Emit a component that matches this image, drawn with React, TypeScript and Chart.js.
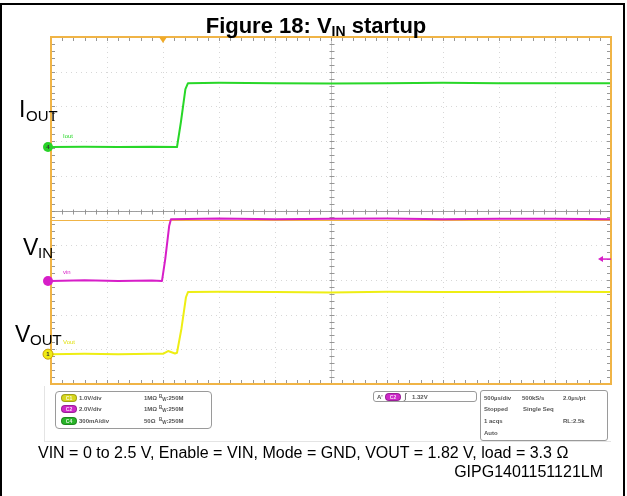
import React, { useEffect, useRef } from "react";
import { Chart, registerables } from "chart.js";

Chart.register(...registerables);

// ---- Data (time in µs relative to trigger, amplitude in screen divisions) ----
const timeDivUs = 500;
const xMinUs = -1000;
const xMaxUs = 4000;
const yMinDiv = -5;
const yMaxDiv = 5;

const ioutTimeUs = [-1000, -700, -400, -100, 125, 160, 200, 223, 500, 1000, 1500, 2000, 2500, 3000, 3500, 4000];
const ioutDiv = [1.83, 1.84, 1.83, 1.84, 1.83, 2.55, 3.5, 3.67, 3.68, 3.67, 3.66, 3.67, 3.68, 3.67, 3.67, 3.67];

const vinTimeUs = [-1000, -700, -400, -100, -9, 20, 55, 71, 500, 1000, 1500, 2000, 2500, 3000, 3500, 4000];
const vinDiv = [-2.03, -2.01, -2.03, -2.02, -2.03, -1.4, -0.45, -0.25, -0.23, -0.25, -0.24, -0.23, -0.25, -0.24, -0.24, -0.25];

const voutTimeUs = [-1000, -700, -400, -100, 0, 45, 107, 125, 165, 205, 223, 500, 1000, 1500, 2000, 2500, 3000, 3500, 4000];
const voutDiv = [-4.14, -4.13, -4.14, -4.13, -4.13, -4.05, -4.12, -4.1, -3.4, -2.5, -2.35, -2.34, -2.35, -2.36, -2.34, -2.35, -2.35, -2.34, -2.35];

const channelRefs = [
  { label: "4", level: 1.83, color: "rgb(40,210,40)" },
  { label: "", level: -2.03, color: "rgb(215,30,200)" },
  { label: "1", level: -4.14, color: "rgb(240,235,20)" },
];
const triggerTimeUs = 0;
const triggerLevelDiv = -1.4;
const auxLineDiv = -0.27;

const GREEN = "rgb(40,215,40)";
const MAGENTA = "rgb(215,30,200)";
const YELLOW = "rgb(238,238,20)";
const ORANGE = "rgb(240,180,70)";

const scopePlugin = {
  id: "scope",
  beforeDatasetsDraw(chart: any) {
    const { ctx, chartArea: a, scales } = chart;
    const x = scales.x;
    const y = scales.y;
    ctx.save();
    // dotted grid
    ctx.strokeStyle = "rgba(175,175,175,0.5)";
    ctx.lineWidth = 1;
    ctx.setLineDash([1, 4]);
    for (let d = 1; d < 10; d++) {
      const px = Math.round(x.getPixelForValue(xMinUs + d * timeDivUs)) + 0.5;
      ctx.beginPath();
      ctx.moveTo(px, a.top);
      ctx.lineTo(px, a.bottom);
      ctx.stroke();
    }
    for (let d = yMinDiv + 1; d < yMaxDiv; d++) {
      const py = Math.round(y.getPixelForValue(d)) + 0.5;
      ctx.beginPath();
      ctx.moveTo(a.left, py);
      ctx.lineTo(a.right, py);
      ctx.stroke();
    }
    ctx.setLineDash([]);
    // center lines
    const cy = Math.round(y.getPixelForValue(0)) + 0.5;
    const cx = Math.round(x.getPixelForValue(xMinUs + 5 * timeDivUs)) + 0.5;
    ctx.strokeStyle = "rgba(150,150,150,0.9)";
    ctx.beginPath();
    ctx.moveTo(a.left, cy);
    ctx.lineTo(a.right, cy);
    ctx.stroke();
    ctx.strokeStyle = "rgba(190,190,190,0.8)";
    ctx.beginPath();
    ctx.moveTo(cx, a.top);
    ctx.lineTo(cx, a.bottom);
    ctx.stroke();
    // minor ticks
    ctx.strokeStyle = "rgba(140,140,140,0.9)";
    for (let i = 1; i < 50; i++) {
      const px = Math.round(x.getPixelForValue(xMinUs + (i * timeDivUs) / 5)) + 0.5;
      ctx.beginPath();
      ctx.moveTo(px, a.top);
      ctx.lineTo(px, a.top + 4);
      ctx.moveTo(px, a.bottom);
      ctx.lineTo(px, a.bottom - 4);
      ctx.moveTo(px, cy - 2);
      ctx.lineTo(px, cy + 3);
      ctx.stroke();
    }
    for (let i = 1; i < 50; i++) {
      const py = Math.round(y.getPixelForValue(yMinDiv + i / 5)) + 0.5;
      ctx.beginPath();
      ctx.moveTo(a.left, py);
      ctx.lineTo(a.left + 4, py);
      ctx.moveTo(a.right, py);
      ctx.lineTo(a.right - 4, py);
      ctx.moveTo(cx - 2, py);
      ctx.lineTo(cx + 3, py);
      ctx.stroke();
    }
    // auxiliary orange level line
    const oy = Math.round(y.getPixelForValue(auxLineDiv)) + 0.5;
    ctx.strokeStyle = ORANGE;
    ctx.beginPath();
    ctx.moveTo(a.left, oy);
    ctx.lineTo(a.right, oy);
    ctx.stroke();
    ctx.restore();
  },
  afterDatasetsDraw(chart: any) {
    const { ctx, chartArea: a, scales } = chart;
    const x = scales.x;
    const y = scales.y;
    ctx.save();
    // orange frame
    ctx.strokeStyle = ORANGE;
    ctx.lineWidth = 2;
    ctx.strokeRect(a.left, a.top, a.right - a.left, a.bottom - a.top);
    // trigger position marker
    const tx = x.getPixelForValue(triggerTimeUs);
    ctx.fillStyle = "rgb(240,170,40)";
    ctx.beginPath();
    ctx.moveTo(tx - 4, a.top);
    ctx.lineTo(tx + 4, a.top);
    ctx.lineTo(tx, a.top + 6);
    ctx.closePath();
    ctx.fill();
    // trigger level arrow at right
    const ty = y.getPixelForValue(triggerLevelDiv);
    ctx.strokeStyle = MAGENTA;
    ctx.fillStyle = MAGENTA;
    ctx.lineWidth = 1.5;
    ctx.beginPath();
    ctx.moveTo(a.right - 10, ty);
    ctx.lineTo(a.right, ty);
    ctx.stroke();
    ctx.beginPath();
    ctx.moveTo(a.right - 13, ty);
    ctx.lineTo(a.right - 8, ty - 3);
    ctx.lineTo(a.right - 8, ty + 3);
    ctx.closePath();
    ctx.fill();
    // channel reference markers
    for (const c of channelRefs) {
      const py = y.getPixelForValue(c.level);
      const px = a.left - 3;
      ctx.beginPath();
      ctx.arc(px, py, 5, 0, Math.PI * 2);
      ctx.fillStyle = c.color;
      ctx.fill();
      if (c.label === "1") {
        ctx.strokeStyle = "rgb(200,160,0)";
        ctx.lineWidth = 1;
        ctx.stroke();
      }
      if (c.label) {
        ctx.fillStyle = "#333";
        ctx.font = "bold 6px 'Liberation Sans', Arial";
        ctx.textAlign = "center";
        ctx.textBaseline = "middle";
        ctx.fillText(c.label, px, py + 0.5);
      }
    }
    ctx.restore();
  },
};

function pts(xs: number[], ys: number[]) {
  return xs.map((t, i) => ({ x: t, y: ys[i] }));
}

const baseFont = '"Liberation Sans", Arial, Helvetica, sans-serif';

function Txt(props: {
  x: number;
  base: number;
  size: number;
  bold?: boolean;
  color?: string;
  right?: boolean;
  children: React.ReactNode;
}) {
  const { x, base, size, bold, color, right, children } = props;
  const style: React.CSSProperties = {
    position: "absolute",
    top: base - size * 0.8465,
    fontSize: size,
    lineHeight: `${size}px`,
    fontWeight: bold ? "bold" : "normal",
    color: color || "#000",
    whiteSpace: "nowrap",
    fontFamily: baseFont,
  };
  if (right) style.right = 627 - x;
  else style.left = x;
  return <div style={style}>{children}</div>;
}

function Pill({ x, y, color, text }: { x: number; y: number; color: string; text: string }) {
  return (
    <div
      style={{
        position: "absolute",
        left: x,
        top: y - 4,
        width: 16,
        height: 8,
        borderRadius: 4,
        background: color,
        border: "1px solid rgba(0,0,0,0.25)",
        boxSizing: "border-box",
        fontSize: 5,
        lineHeight: "6px",
        color: "rgba(255,255,255,0.85)",
        textAlign: "center",
        fontFamily: baseFont,
        fontWeight: "bold",
      }}
    >
      {text}
    </div>
  );
}

const infoColor = "#555";
const infoSize = 6;

export default function App() {
  const ref = useRef<HTMLCanvasElement | null>(null);
  useEffect(() => {
    if (!ref.current) return;
    const chart = new Chart(ref.current, {
      type: "line",
      data: {
        datasets: [
          { label: "VIN", data: pts(vinTimeUs, vinDiv), borderColor: MAGENTA, borderWidth: 2, pointRadius: 0, tension: 0 },
          { label: "VOUT", data: pts(voutTimeUs, voutDiv), borderColor: YELLOW, borderWidth: 2, pointRadius: 0, tension: 0 },
          { label: "IOUT", data: pts(ioutTimeUs, ioutDiv), borderColor: GREEN, borderWidth: 2, pointRadius: 0, tension: 0 },
        ],
      },
      options: {
        responsive: false,
        maintainAspectRatio: false,
        animation: false,
        devicePixelRatio: 1,
        layout: { padding: { left: 51, top: 37, right: 16, bottom: 112 } },
        scales: {
          x: { type: "linear", min: xMinUs, max: xMaxUs, display: false },
          y: { type: "linear", min: yMinDiv, max: yMaxDiv, display: false },
        },
        plugins: { legend: { display: false }, tooltip: { enabled: false }, title: { display: false } },
        elements: { line: { borderJoinStyle: "round" } },
      },
      plugins: [scopePlugin],
    } as any);
    return () => chart.destroy();
  }, []);

  return (
    <div
      style={{
        position: "fixed",
        left: 0,
        top: 0,
        width: 627,
        height: 496,
        background: "#fff",
        overflow: "hidden",
        fontFamily: baseFont,
      }}
    >
      <div style={{ position: "absolute", left: 0, top: 3, width: 621, height: 600, border: "2px solid #000" }} />
      <div
        style={{
          position: "absolute",
          left: 44,
          top: 386,
          width: 566,
          height: 55,
          borderLeft: "1px solid #e4e4e4",
          borderBottom: "1px solid #e4e4e4",
        }}
      />
      <canvas ref={ref} width={627} height={496} style={{ position: "absolute", left: 0, top: 0, width: 627, height: 496 }} />

      {/* Title */}
      <div
        style={{
          position: "absolute",
          left: 0,
          width: 632,
          top: 34 - 22 * 0.8465,
          textAlign: "center",
          fontSize: 22,
          lineHeight: "22px",
          fontWeight: "bold",
          whiteSpace: "nowrap",
        }}
      >
        Figure 18: V<span style={{ fontSize: 14, position: "relative", top: 3 }}>IN</span> startup
      </div>

      {/* Channel labels */}
      <Txt x={19} base={117} size={23}>I</Txt>
      <Txt x={26} base={121} size={15}>OUT</Txt>
      <Txt x={23} base={255} size={23}>V</Txt>
      <Txt x={38} base={258} size={15}>IN</Txt>
      <Txt x={15} base={342} size={23}>V</Txt>
      <Txt x={30} base={345} size={15}>OUT</Txt>

      <Txt x={63} base={138} size={6} color={GREEN}>Iout</Txt>
      <Txt x={63} base={274} size={6} color={MAGENTA}>vin</Txt>
      <Txt x={63} base={344} size={6} color="rgb(225,225,20)">Vout</Txt>

      {/* Left info box */}
      <div
        style={{
          position: "absolute",
          left: 55,
          top: 391,
          width: 157,
          height: 38,
          border: "1px solid #9a9a9a",
          borderRadius: 4,
          boxSizing: "border-box",
        }}
      />
      <Pill x={61} y={398} color="rgb(215,215,30)" text="C1" />
      <Pill x={61} y={409} color="rgb(205,40,200)" text="C2" />
      <Pill x={61} y={421} color="rgb(40,180,40)" text="C4" />
      <Txt x={79} base={400} size={infoSize} bold color={infoColor}>1.0V/div</Txt>
      <Txt x={79} base={411} size={infoSize} bold color={infoColor}>2.0V/div</Txt>
      <Txt x={79} base={423} size={infoSize} bold color={infoColor}>300mA/div</Txt>
      {[400, 411, 423].map((b, i) => (
        <React.Fragment key={i}>
          <Txt x={144} base={b} size={infoSize} bold color={infoColor}>{i === 2 ? "50Ω" : "1MΩ"}</Txt>
          <Txt x={159} base={b} size={infoSize} bold color={infoColor}>
            <span style={{ fontSize: 4.5, position: "relative", top: -2 }}>B</span>
            <span style={{ fontSize: 4.5, position: "relative", top: 1 }}>W</span>:250M
          </Txt>
        </React.Fragment>
      ))}

      {/* Trigger box */}
      <div
        style={{
          position: "absolute",
          left: 373,
          top: 391,
          width: 104,
          height: 11,
          border: "1px solid #9a9a9a",
          borderRadius: 3,
          boxSizing: "border-box",
        }}
      />
      <Txt x={377} base={399} size={6} bold color={infoColor}>A'</Txt>
      <Pill x={385} y={396.5} color="rgb(205,40,200)" text="C2" />
      <Txt x={404} base={400} size={8} color="#333">∫</Txt>
      <Txt x={412} base={399.5} size={infoSize} bold color={infoColor}>1.32V</Txt>

      {/* Timebase box */}
      <div
        style={{
          position: "absolute",
          left: 480,
          top: 390,
          width: 128,
          height: 51,
          border: "1px solid #9a9a9a",
          borderRadius: 3,
          boxSizing: "border-box",
          background: "#fff",
        }}
      />
      <Txt x={484} base={400} size={infoSize} bold color={infoColor}>500µs/div</Txt>
      <Txt x={522} base={400} size={infoSize} bold color={infoColor}>500kS/s</Txt>
      <Txt x={563} base={400} size={infoSize} bold color={infoColor}>2.0µs/pt</Txt>
      <Txt x={484} base={411.5} size={infoSize} bold color={infoColor}>Stopped</Txt>
      <Txt x={523} base={411.5} size={infoSize} bold color={infoColor}>Single Seq</Txt>
      <Txt x={484} base={423} size={infoSize} bold color={infoColor}>1 acqs</Txt>
      <Txt x={563} base={423} size={infoSize} bold color={infoColor}>RL:2.5k</Txt>
      <Txt x={484} base={435} size={infoSize} bold color={infoColor}>Auto</Txt>

      {/* Caption */}
      <Txt x={38} base={459} size={16}>VIN = 0 to 2.5 V, Enable = VIN, Mode = GND, VOUT = 1.82 V, load = 3.3 Ω</Txt>
      <Txt x={603} base={478} size={16} right>GIPG1401151121LM</Txt>
    </div>
  );
}
